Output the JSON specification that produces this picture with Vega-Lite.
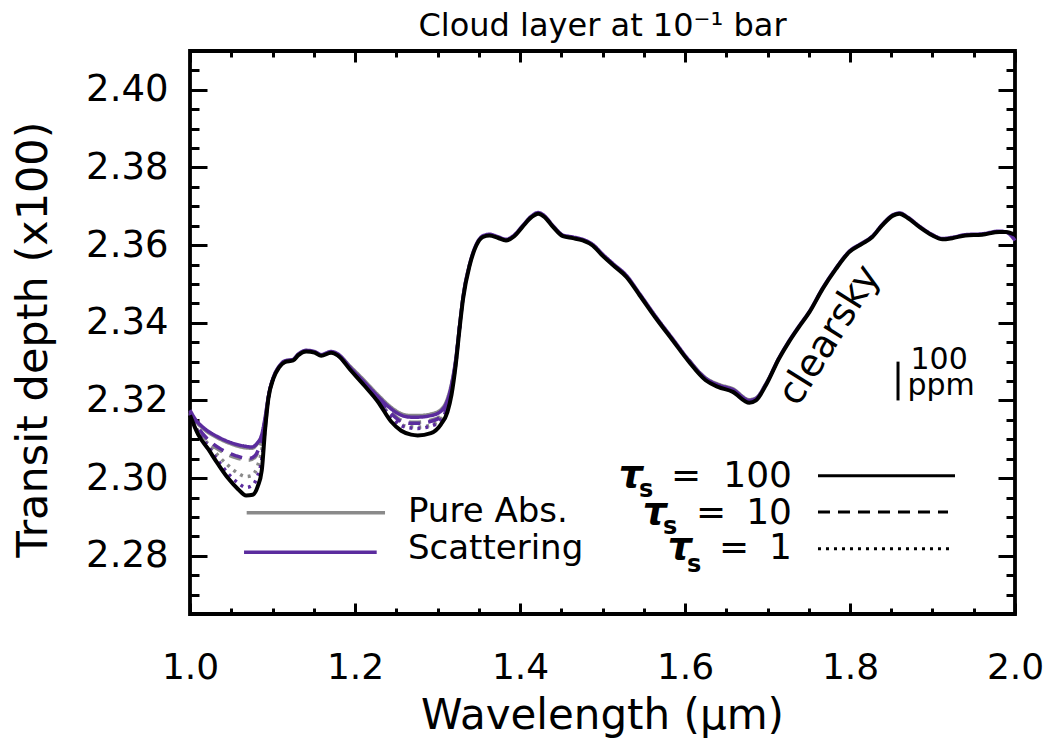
{
  "$schema": "https://vega.github.io/schema/vega-lite/v6.json",
  "width": 825,
  "height": 563,
  "autosize": {"type": "none"},
  "padding": {"left": 190, "top": 51, "right": 35, "bottom": 136},
  "background": "white",
  "config": {
    "font": "DejaVu Sans",
    "view": {"stroke": "#000", "strokeWidth": 3.8},
    "axis": {"grid": false, "domain": false, "tickColor": "#000", "tickWidth": 3, "labelColor": "#000", "titleColor": "#000", "labelFont": "DejaVu Sans", "titleFont": "DejaVu Sans", "titleFontWeight": "normal", "labelFlush": false, "labelOverlap": false}
  },
  "title": {"text": "Cloud layer at 10⁻¹ bar", "fontSize": 32, "font": "DejaVu Sans", "fontWeight": "normal", "offset": 19, "dy": 37, "baseline": "alphabetic", "color": "#000"},
  "datasets": {
    "curves": [
      {"m":"Clear","t":"100","g":"a","x":1.000,"y":2.3162},{"m":"Clear","t":"100","g":"a","x":1.010,"y":2.3112},{"m":"Clear","t":"100","g":"a","x":1.022,"y":2.3075},{"m":"Clear","t":"100","g":"a","x":1.034,"y":2.3036},{"m":"Clear","t":"100","g":"a","x":1.046,"y":2.3000},{"m":"Clear","t":"100","g":"a","x":1.058,"y":2.2972},{"m":"Clear","t":"100","g":"a","x":1.068,"y":2.2955},{"m":"Clear","t":"100","g":"a","x":1.076,"y":2.2957},{"m":"Clear","t":"100","g":"a","x":1.082,"y":2.2978},{"m":"Clear","t":"100","g":"a","x":1.087,"y":2.3020},{"m":"Clear","t":"100","g":"a","x":1.091,"y":2.3125},{"m":"Clear","t":"100","g":"a","x":1.095,"y":2.3205},{"m":"Clear","t":"100","g":"a","x":1.101,"y":2.3256},{"m":"Clear","t":"100","g":"a","x":1.108,"y":2.3285},{"m":"Clear","t":"100","g":"a","x":1.115,"y":2.3299},{"m":"Clear","t":"100","g":"a","x":1.125,"y":2.3303},{"m":"Clear","t":"100","g":"a","x":1.131,"y":2.3316},{"m":"Clear","t":"100","g":"a","x":1.141,"y":2.3326},{"m":"Clear","t":"100","g":"a","x":1.151,"y":2.3323},{"m":"Clear","t":"100","g":"a","x":1.159,"y":2.3315},{"m":"Clear","t":"100","g":"a","x":1.171,"y":2.3323},{"m":"Clear","t":"100","g":"a","x":1.179,"y":2.3316},{"m":"Clear","t":"100","g":"a","x":1.195,"y":2.3277},{"m":"Clear","t":"100","g":"a","x":1.211,"y":2.3239},{"m":"Clear","t":"100","g":"a","x":1.228,"y":2.3196},{"m":"Clear","t":"100","g":"a","x":1.244,"y":2.3145},{"m":"Clear","t":"100","g":"a","x":1.256,"y":2.3122},{"m":"Clear","t":"100","g":"a","x":1.268,"y":2.3112},{"m":"Clear","t":"100","g":"a","x":1.276,"y":2.3110},{"m":"Clear","t":"100","g":"a","x":1.292,"y":2.3116},{"m":"Clear","t":"100","g":"a","x":1.304,"y":2.3138},{"m":"Clear","t":"100","g":"a","x":1.312,"y":2.3170},{"m":"Clear","t":"100","g":"a","x":1.317,"y":2.3215},{"m":"Clear","t":"100","g":"a","x":1.322,"y":2.3290},{"m":"Clear","t":"100","g":"a","x":1.327,"y":2.3390},{"m":"Clear","t":"100","g":"a","x":1.331,"y":2.3462},{"m":"Clear","t":"100","g":"a","x":1.339,"y":2.3548},{"m":"Clear","t":"100","g":"a","x":1.347,"y":2.3599},{"m":"Clear","t":"100","g":"a","x":1.355,"y":2.3621},{"m":"Clear","t":"100","g":"a","x":1.363,"y":2.3625},{"m":"Clear","t":"100","g":"a","x":1.373,"y":2.3619},{"m":"Clear","t":"100","g":"a","x":1.383,"y":2.3612},{"m":"Clear","t":"100","g":"a","x":1.393,"y":2.3623},{"m":"Clear","t":"100","g":"a","x":1.403,"y":2.3647},{"m":"Clear","t":"100","g":"a","x":1.414,"y":2.3672},{"m":"Clear","t":"100","g":"a","x":1.422,"y":2.3681},{"m":"Clear","t":"100","g":"a","x":1.430,"y":2.3672},{"m":"Clear","t":"100","g":"a","x":1.440,"y":2.3647},{"m":"Clear","t":"100","g":"a","x":1.452,"y":2.3623},{"m":"Clear","t":"100","g":"a","x":1.464,"y":2.3618},{"m":"Clear","t":"100","g":"a","x":1.476,"y":2.3612},{"m":"Clear","t":"100","g":"a","x":1.488,"y":2.3599},{"m":"Clear","t":"100","g":"a","x":1.500,"y":2.3573},{"m":"Clear","t":"100","g":"a","x":1.513,"y":2.3548},{"m":"Clear","t":"100","g":"a","x":1.529,"y":2.3518},{"m":"Clear","t":"100","g":"a","x":1.545,"y":2.3471},{"m":"Clear","t":"100","g":"a","x":1.565,"y":2.3411},{"m":"Clear","t":"100","g":"a","x":1.585,"y":2.3355},{"m":"Clear","t":"100","g":"a","x":1.605,"y":2.3299},{"m":"Clear","t":"100","g":"a","x":1.625,"y":2.3252},{"m":"Clear","t":"100","g":"a","x":1.640,"y":2.3235},{"m":"Clear","t":"100","g":"a","x":1.658,"y":2.3222},{"m":"Clear","t":"100","g":"a","x":1.678,"y":2.3194},{"m":"Clear","t":"100","g":"a","x":1.686,"y":2.3200},{"m":"Clear","t":"100","g":"a","x":1.698,"y":2.3239},{"m":"Clear","t":"100","g":"a","x":1.714,"y":2.3308},{"m":"Clear","t":"100","g":"a","x":1.726,"y":2.3351},{"m":"Clear","t":"100","g":"a","x":1.738,"y":2.3389},{"m":"Clear","t":"100","g":"a","x":1.751,"y":2.3428},{"m":"Clear","t":"100","g":"a","x":1.767,"y":2.3488},{"m":"Clear","t":"100","g":"a","x":1.783,"y":2.3539},{"m":"Clear","t":"100","g":"a","x":1.799,"y":2.3582},{"m":"Clear","t":"100","g":"a","x":1.815,"y":2.3604},{"m":"Clear","t":"100","g":"a","x":1.827,"y":2.3621},{"m":"Clear","t":"100","g":"a","x":1.839,"y":2.3651},{"m":"Clear","t":"100","g":"a","x":1.852,"y":2.3676},{"m":"Clear","t":"100","g":"a","x":1.860,"y":2.3681},{"m":"Clear","t":"100","g":"a","x":1.870,"y":2.3670},{"m":"Clear","t":"100","g":"a","x":1.884,"y":2.3647},{"m":"Clear","t":"100","g":"a","x":1.900,"y":2.3625},{"m":"Clear","t":"100","g":"a","x":1.912,"y":2.3615},{"m":"Clear","t":"100","g":"a","x":1.924,"y":2.3618},{"m":"Clear","t":"100","g":"a","x":1.940,"y":2.3625},{"m":"Clear","t":"100","g":"a","x":1.960,"y":2.3627},{"m":"Clear","t":"100","g":"a","x":1.981,"y":2.3634},{"m":"Clear","t":"100","g":"a","x":1.989,"y":2.3634},{"m":"Clear","t":"100","g":"a","x":2.000,"y":2.3627},

      {"m":"Scat","t":"100","g":"a","x":1.000,"y":2.3175},{"m":"Scat","t":"100","g":"a","x":1.006,"y":2.3153},{"m":"Scat","t":"100","g":"a","x":1.018,"y":2.3127},{"m":"Scat","t":"100","g":"a","x":1.034,"y":2.3106},{"m":"Scat","t":"100","g":"a","x":1.050,"y":2.3091},{"m":"Scat","t":"100","g":"a","x":1.067,"y":2.3082},{"m":"Scat","t":"100","g":"a","x":1.075,"y":2.3080},{"m":"Scat","t":"100","g":"a","x":1.081,"y":2.3089},{"m":"Scat","t":"100","g":"a","x":1.087,"y":2.3112},{"m":"Scat","t":"100","g":"a","x":1.091,"y":2.3155},{"m":"Scat","t":"100","g":"a","x":1.095,"y":2.3210},{"m":"Scat","t":"100","g":"a","x":1.101,"y":2.3259},{"m":"Scat","t":"100","g":"a","x":1.108,"y":2.3288},{"m":"Scat","t":"100","g":"a","x":1.115,"y":2.3302},{"m":"Scat","t":"100","g":"a","x":1.125,"y":2.3306},{"m":"Scat","t":"100","g":"a","x":1.131,"y":2.3319},{"m":"Scat","t":"100","g":"a","x":1.141,"y":2.3329},{"m":"Scat","t":"100","g":"a","x":1.151,"y":2.3326},{"m":"Scat","t":"100","g":"a","x":1.159,"y":2.3318},{"m":"Scat","t":"100","g":"a","x":1.171,"y":2.3326},{"m":"Scat","t":"100","g":"a","x":1.179,"y":2.3320},{"m":"Scat","t":"100","g":"a","x":1.195,"y":2.3283},{"m":"Scat","t":"100","g":"a","x":1.211,"y":2.3248},{"m":"Scat","t":"100","g":"a","x":1.228,"y":2.3210},{"m":"Scat","t":"100","g":"a","x":1.244,"y":2.3178},{"m":"Scat","t":"100","g":"a","x":1.256,"y":2.3162},{"m":"Scat","t":"100","g":"a","x":1.268,"y":2.3157},{"m":"Scat","t":"100","g":"a","x":1.276,"y":2.3157},{"m":"Scat","t":"100","g":"a","x":1.292,"y":2.3161},{"m":"Scat","t":"100","g":"a","x":1.304,"y":2.3172},{"m":"Scat","t":"100","g":"a","x":1.312,"y":2.3200},{"m":"Scat","t":"100","g":"a","x":1.317,"y":2.3240},{"m":"Scat","t":"100","g":"a","x":1.322,"y":2.3302},{"m":"Scat","t":"100","g":"a","x":1.327,"y":2.3396},{"m":"Scat","t":"100","g":"a","x":1.331,"y":2.3466},{"m":"Scat","t":"100","g":"a","x":1.339,"y":2.3551},{"m":"Scat","t":"100","g":"a","x":1.347,"y":2.3602},{"m":"Scat","t":"100","g":"a","x":1.355,"y":2.3624},{"m":"Scat","t":"100","g":"a","x":1.363,"y":2.3628},{"m":"Scat","t":"100","g":"a","x":1.373,"y":2.3622},{"m":"Scat","t":"100","g":"a","x":1.383,"y":2.3615},{"m":"Scat","t":"100","g":"a","x":1.393,"y":2.3626},{"m":"Scat","t":"100","g":"a","x":1.403,"y":2.3650},{"m":"Scat","t":"100","g":"a","x":1.414,"y":2.3675},{"m":"Scat","t":"100","g":"a","x":1.422,"y":2.3684},{"m":"Scat","t":"100","g":"a","x":1.430,"y":2.3675},{"m":"Scat","t":"100","g":"a","x":1.440,"y":2.3650},{"m":"Scat","t":"100","g":"a","x":1.452,"y":2.3626},{"m":"Scat","t":"100","g":"a","x":1.464,"y":2.3621},{"m":"Scat","t":"100","g":"a","x":1.476,"y":2.3615},{"m":"Scat","t":"100","g":"a","x":1.488,"y":2.3602},{"m":"Scat","t":"100","g":"a","x":1.500,"y":2.3577},{"m":"Scat","t":"100","g":"a","x":1.513,"y":2.3552},{"m":"Scat","t":"100","g":"a","x":1.529,"y":2.3522},{"m":"Scat","t":"100","g":"a","x":1.545,"y":2.3475},{"m":"Scat","t":"100","g":"a","x":1.565,"y":2.3415},{"m":"Scat","t":"100","g":"a","x":1.585,"y":2.3359},{"m":"Scat","t":"100","g":"a","x":1.605,"y":2.3303},{"m":"Scat","t":"100","g":"a","x":1.625,"y":2.3257},{"m":"Scat","t":"100","g":"a","x":1.640,"y":2.3240},{"m":"Scat","t":"100","g":"a","x":1.658,"y":2.3228},{"m":"Scat","t":"100","g":"a","x":1.678,"y":2.3200},{"m":"Scat","t":"100","g":"a","x":1.686,"y":2.3205},{"m":"Scat","t":"100","g":"a","x":1.698,"y":2.3242},{"m":"Scat","t":"100","g":"a","x":1.714,"y":2.3310},{"m":"Scat","t":"100","g":"a","x":1.726,"y":2.3353},{"m":"Scat","t":"100","g":"a","x":1.738,"y":2.3391},{"m":"Scat","t":"100","g":"a","x":1.751,"y":2.3430},{"m":"Scat","t":"100","g":"a","x":1.767,"y":2.3490},{"m":"Scat","t":"100","g":"a","x":1.783,"y":2.3541},{"m":"Scat","t":"100","g":"a","x":1.799,"y":2.3584},{"m":"Scat","t":"100","g":"a","x":1.815,"y":2.3606},{"m":"Scat","t":"100","g":"a","x":1.827,"y":2.3623},{"m":"Scat","t":"100","g":"a","x":1.839,"y":2.3653},{"m":"Scat","t":"100","g":"a","x":1.852,"y":2.3678},{"m":"Scat","t":"100","g":"a","x":1.860,"y":2.3683},{"m":"Scat","t":"100","g":"a","x":1.870,"y":2.3672},{"m":"Scat","t":"100","g":"a","x":1.884,"y":2.3649},{"m":"Scat","t":"100","g":"a","x":1.900,"y":2.3627},{"m":"Scat","t":"100","g":"a","x":1.912,"y":2.3617},{"m":"Scat","t":"100","g":"a","x":1.924,"y":2.3620},{"m":"Scat","t":"100","g":"a","x":1.940,"y":2.3627},{"m":"Scat","t":"100","g":"a","x":1.960,"y":2.3629},{"m":"Scat","t":"100","g":"a","x":1.981,"y":2.3636},{"m":"Scat","t":"100","g":"a","x":1.989,"y":2.3634},{"m":"Scat","t":"100","g":"a","x":2.000,"y":2.3612},

      {"m":"Pure","t":"100","g":"a","x":1.000,"y":2.3173},{"m":"Pure","t":"100","g":"a","x":1.006,"y":2.3150},{"m":"Pure","t":"100","g":"a","x":1.018,"y":2.3124},{"m":"Pure","t":"100","g":"a","x":1.034,"y":2.3103},{"m":"Pure","t":"100","g":"a","x":1.050,"y":2.3088},{"m":"Pure","t":"100","g":"a","x":1.067,"y":2.3078},{"m":"Pure","t":"100","g":"a","x":1.075,"y":2.3077},{"m":"Pure","t":"100","g":"a","x":1.081,"y":2.3087},{"m":"Pure","t":"100","g":"a","x":1.087,"y":2.3110},{"m":"Pure","t":"100","g":"a","x":1.091,"y":2.3153},{"m":"Pure","t":"100","g":"a","x":1.095,"y":2.3208},{"m":"Pure","t":"100","g":"a","x":1.101,"y":2.3258},{"m":"Pure","t":"100","g":"a","x":1.108,"y":2.3287},{"m":"Pure","t":"100","g":"a","x":1.115,"y":2.3301},{"m":"Pure","t":"100","g":"a","x":1.125,"y":2.3305},{"m":"Pure","t":"100","g":"a","x":1.131,"y":2.3318},{"m":"Pure","t":"100","g":"a","x":1.141,"y":2.3328},{"m":"Pure","t":"100","g":"a","x":1.151,"y":2.3325},{"m":"Pure","t":"100","g":"a","x":1.159,"y":2.3317},{"m":"Pure","t":"100","g":"a","x":1.171,"y":2.3325},{"m":"Pure","t":"100","g":"a","x":1.179,"y":2.3319},{"m":"Pure","t":"100","g":"a","x":1.195,"y":2.3286},{"m":"Pure","t":"100","g":"a","x":1.211,"y":2.3252},{"m":"Pure","t":"100","g":"a","x":1.228,"y":2.3214},{"m":"Pure","t":"100","g":"a","x":1.244,"y":2.3182},{"m":"Pure","t":"100","g":"a","x":1.256,"y":2.3166},{"m":"Pure","t":"100","g":"a","x":1.268,"y":2.3161},{"m":"Pure","t":"100","g":"a","x":1.276,"y":2.3161},{"m":"Pure","t":"100","g":"a","x":1.292,"y":2.3165},{"m":"Pure","t":"100","g":"a","x":1.304,"y":2.3176},{"m":"Pure","t":"100","g":"a","x":1.312,"y":2.3204},{"m":"Pure","t":"100","g":"a","x":1.317,"y":2.3243},{"m":"Pure","t":"100","g":"a","x":1.322,"y":2.3304},{"m":"Pure","t":"100","g":"a","x":1.327,"y":2.3396},{"m":"Pure","t":"100","g":"a","x":1.331,"y":2.3466},{"m":"Pure","t":"100","g":"a","x":1.339,"y":2.3550},
      {"m":"Pure","t":"100","g":"b","x":1.605,"y":2.3304},{"m":"Pure","t":"100","g":"b","x":1.625,"y":2.3258},{"m":"Pure","t":"100","g":"b","x":1.640,"y":2.3242},{"m":"Pure","t":"100","g":"b","x":1.658,"y":2.3230},{"m":"Pure","t":"100","g":"b","x":1.678,"y":2.3202},{"m":"Pure","t":"100","g":"b","x":1.686,"y":2.3206},{"m":"Pure","t":"100","g":"b","x":1.698,"y":2.3243},{"m":"Pure","t":"100","g":"b","x":1.714,"y":2.3310},

      {"m":"Scat","t":"10","g":"a","x":1.000,"y":2.3170},{"m":"Scat","t":"10","g":"a","x":1.010,"y":2.3130},{"m":"Scat","t":"10","g":"a","x":1.018,"y":2.3108},{"m":"Scat","t":"10","g":"a","x":1.038,"y":2.3074},{"m":"Scat","t":"10","g":"a","x":1.055,"y":2.3058},{"m":"Scat","t":"10","g":"a","x":1.071,"y":2.3050},{"m":"Scat","t":"10","g":"a","x":1.079,"y":2.3058},{"m":"Scat","t":"10","g":"a","x":1.085,"y":2.3085},{"m":"Scat","t":"10","g":"a","x":1.089,"y":2.3112},{"m":"Scat","t":"10","g":"a","x":1.091,"y":2.3135},{"m":"Scat","t":"10","g":"a","x":1.095,"y":2.3207},{"m":"Scat","t":"10","g":"a","x":1.101,"y":2.3257},
      {"m":"Scat","t":"10","g":"b","x":1.179,"y":2.3319},{"m":"Scat","t":"10","g":"b","x":1.195,"y":2.3281},{"m":"Scat","t":"10","g":"b","x":1.211,"y":2.3245},{"m":"Scat","t":"10","g":"b","x":1.228,"y":2.3203},{"m":"Scat","t":"10","g":"b","x":1.244,"y":2.3166},{"m":"Scat","t":"10","g":"b","x":1.256,"y":2.3146},{"m":"Scat","t":"10","g":"b","x":1.268,"y":2.3141},{"m":"Scat","t":"10","g":"b","x":1.276,"y":2.3141},{"m":"Scat","t":"10","g":"b","x":1.292,"y":2.3146},{"m":"Scat","t":"10","g":"b","x":1.304,"y":2.3158},{"m":"Scat","t":"10","g":"b","x":1.312,"y":2.3190},{"m":"Scat","t":"10","g":"b","x":1.317,"y":2.3232},{"m":"Scat","t":"10","g":"b","x":1.322,"y":2.3298},{"m":"Scat","t":"10","g":"b","x":1.327,"y":2.3394},

      {"m":"Pure","t":"10","g":"a","x":1.000,"y":2.3169},{"m":"Pure","t":"10","g":"a","x":1.010,"y":2.3126},{"m":"Pure","t":"10","g":"a","x":1.018,"y":2.3103},{"m":"Pure","t":"10","g":"a","x":1.038,"y":2.3069},{"m":"Pure","t":"10","g":"a","x":1.055,"y":2.3053},{"m":"Pure","t":"10","g":"a","x":1.071,"y":2.3046},{"m":"Pure","t":"10","g":"a","x":1.079,"y":2.3054},{"m":"Pure","t":"10","g":"a","x":1.085,"y":2.3082},{"m":"Pure","t":"10","g":"a","x":1.089,"y":2.3110},{"m":"Pure","t":"10","g":"a","x":1.091,"y":2.3133},{"m":"Pure","t":"10","g":"a","x":1.095,"y":2.3207},{"m":"Pure","t":"10","g":"a","x":1.101,"y":2.3257},
      {"m":"Pure","t":"10","g":"b","x":1.179,"y":2.3319},{"m":"Pure","t":"10","g":"b","x":1.195,"y":2.3282},{"m":"Pure","t":"10","g":"b","x":1.211,"y":2.3247},{"m":"Pure","t":"10","g":"b","x":1.228,"y":2.3206},{"m":"Pure","t":"10","g":"b","x":1.244,"y":2.3169},{"m":"Pure","t":"10","g":"b","x":1.256,"y":2.3149},{"m":"Pure","t":"10","g":"b","x":1.268,"y":2.3144},{"m":"Pure","t":"10","g":"b","x":1.276,"y":2.3144},{"m":"Pure","t":"10","g":"b","x":1.292,"y":2.3149},{"m":"Pure","t":"10","g":"b","x":1.304,"y":2.3160},{"m":"Pure","t":"10","g":"b","x":1.312,"y":2.3192},{"m":"Pure","t":"10","g":"b","x":1.317,"y":2.3233},{"m":"Pure","t":"10","g":"b","x":1.322,"y":2.3298},{"m":"Pure","t":"10","g":"b","x":1.327,"y":2.3394},

      {"m":"Pure","t":"1","g":"a","x":1.000,"y":2.3166},{"m":"Pure","t":"1","g":"a","x":1.010,"y":2.3120},{"m":"Pure","t":"1","g":"a","x":1.022,"y":2.3088},{"m":"Pure","t":"1","g":"a","x":1.034,"y":2.3058},{"m":"Pure","t":"1","g":"a","x":1.046,"y":2.3033},{"m":"Pure","t":"1","g":"a","x":1.058,"y":2.3013},{"m":"Pure","t":"1","g":"a","x":1.068,"y":2.3004},{"m":"Pure","t":"1","g":"a","x":1.076,"y":2.3008},{"m":"Pure","t":"1","g":"a","x":1.082,"y":2.3032},{"m":"Pure","t":"1","g":"a","x":1.087,"y":2.3072},{"m":"Pure","t":"1","g":"a","x":1.091,"y":2.3128},{"m":"Pure","t":"1","g":"a","x":1.095,"y":2.3206},{"m":"Pure","t":"1","g":"a","x":1.101,"y":2.3256},
      {"m":"Pure","t":"1","g":"b","x":1.179,"y":2.3318},{"m":"Pure","t":"1","g":"b","x":1.195,"y":2.3280},{"m":"Pure","t":"1","g":"b","x":1.211,"y":2.3243},{"m":"Pure","t":"1","g":"b","x":1.228,"y":2.3199},{"m":"Pure","t":"1","g":"b","x":1.244,"y":2.3160},{"m":"Pure","t":"1","g":"b","x":1.256,"y":2.3138},{"m":"Pure","t":"1","g":"b","x":1.268,"y":2.3132},{"m":"Pure","t":"1","g":"b","x":1.276,"y":2.3131},{"m":"Pure","t":"1","g":"b","x":1.292,"y":2.3137},{"m":"Pure","t":"1","g":"b","x":1.304,"y":2.3152},{"m":"Pure","t":"1","g":"b","x":1.312,"y":2.3184},{"m":"Pure","t":"1","g":"b","x":1.317,"y":2.3226},{"m":"Pure","t":"1","g":"b","x":1.322,"y":2.3294},{"m":"Pure","t":"1","g":"b","x":1.327,"y":2.3392},

      {"m":"Scat","t":"1","g":"a","x":1.000,"y":2.3165},{"m":"Scat","t":"1","g":"a","x":1.010,"y":2.3117},{"m":"Scat","t":"1","g":"a","x":1.022,"y":2.3082},{"m":"Scat","t":"1","g":"a","x":1.034,"y":2.3045},{"m":"Scat","t":"1","g":"a","x":1.046,"y":2.3012},{"m":"Scat","t":"1","g":"a","x":1.058,"y":2.2988},{"m":"Scat","t":"1","g":"a","x":1.068,"y":2.2976},{"m":"Scat","t":"1","g":"a","x":1.076,"y":2.2982},{"m":"Scat","t":"1","g":"a","x":1.082,"y":2.3006},{"m":"Scat","t":"1","g":"a","x":1.087,"y":2.3048},{"m":"Scat","t":"1","g":"a","x":1.091,"y":2.3127},{"m":"Scat","t":"1","g":"a","x":1.095,"y":2.3206},{"m":"Scat","t":"1","g":"a","x":1.101,"y":2.3256},
      {"m":"Scat","t":"1","g":"b","x":1.179,"y":2.3318},{"m":"Scat","t":"1","g":"b","x":1.195,"y":2.3279},{"m":"Scat","t":"1","g":"b","x":1.211,"y":2.3242},{"m":"Scat","t":"1","g":"b","x":1.228,"y":2.3197},{"m":"Scat","t":"1","g":"b","x":1.244,"y":2.3157},{"m":"Scat","t":"1","g":"b","x":1.256,"y":2.3135},{"m":"Scat","t":"1","g":"b","x":1.268,"y":2.3129},{"m":"Scat","t":"1","g":"b","x":1.276,"y":2.3128},{"m":"Scat","t":"1","g":"b","x":1.292,"y":2.3134},{"m":"Scat","t":"1","g":"b","x":1.304,"y":2.3150},{"m":"Scat","t":"1","g":"b","x":1.312,"y":2.3182},{"m":"Scat","t":"1","g":"b","x":1.317,"y":2.3224},{"m":"Scat","t":"1","g":"b","x":1.322,"y":2.3293},{"m":"Scat","t":"1","g":"b","x":1.327,"y":2.3392}
    ]
  },
  "resolve": {"axis": {"x": "independent", "y": "independent"}},
  "layer": [
    {
      "data": {"values": [{"x": 1.5, "y": 2.3}]},
      "mark": {"type": "point", "opacity": 0},
      "encoding": {
        "x": {"field": "x", "type": "quantitative", "scale": {"domain": [1, 2], "nice": false, "zero": false},
              "axis": {"orient": "bottom", "values": [1.0, 1.2, 1.4, 1.6, 1.8, 2.0], "format": ".1f", "tickSize": -11, "labelFontSize": 36, "labelPadding": 75, "labelBaseline": "alphabetic",
                       "title": "Wavelength (μm)", "titleFontSize": 42, "titleX": 412, "titleY": 114, "titleBaseline": "alphabetic", "titleAlign": "center"}},
        "y": {"field": "y", "type": "quantitative", "scale": {"domain": [2.265, 2.41], "nice": false, "zero": false},
              "axis": {"orient": "left", "values": [2.28, 2.30, 2.32, 2.34, 2.36, 2.38, 2.40], "format": ".2f", "tickSize": -17, "labelFontSize": 37, "labelPadding": 39, "labelBaseline": "middle",
                       "title": "Transit depth (x100)", "titleFontSize": 43, "titleX": -157, "titleY": 288, "titleAngle": -90, "titleBaseline": "middle", "titleAlign": "center"}}
      }
    },
    {
      "data": {"values": [{"x": 1.5, "y": 2.3}]},
      "mark": {"type": "point", "opacity": 0},
      "encoding": {
        "x": {"field": "x", "type": "quantitative", "scale": {"domain": [1, 2], "nice": false, "zero": false},
              "axis": {"orient": "bottom", "values": [1.05, 1.1, 1.15, 1.25, 1.3, 1.35, 1.45, 1.5, 1.55, 1.65, 1.7, 1.75, 1.85, 1.9, 1.95], "tickSize": -6, "labels": false, "title": null}},
        "y": {"field": "y", "type": "quantitative", "scale": {"domain": [2.265, 2.41], "nice": false, "zero": false},
              "axis": {"orient": "left", "values": [2.27, 2.275, 2.285, 2.29, 2.295, 2.305, 2.31, 2.315, 2.325, 2.33, 2.335, 2.345, 2.35, 2.355, 2.365, 2.37, 2.375, 2.385, 2.39, 2.395, 2.405], "tickSize": -9, "labels": false, "title": null}}
      }
    },
    {
      "data": {"values": [{"x": 1.5, "y": 2.3}]},
      "mark": {"type": "point", "opacity": 0},
      "encoding": {
        "x": {"field": "x", "type": "quantitative", "scale": {"domain": [1, 2], "nice": false, "zero": false},
              "axis": {"orient": "top", "values": [1.0, 1.2, 1.4, 1.6, 1.8, 2.0], "tickSize": -11, "labels": false, "title": null}},
        "y": {"field": "y", "type": "quantitative", "scale": {"domain": [2.265, 2.41], "nice": false, "zero": false},
              "axis": {"orient": "right", "values": [2.28, 2.30, 2.32, 2.34, 2.36, 2.38, 2.40], "tickSize": -17, "labels": false, "title": null}}
      }
    },
    {
      "data": {"values": [{"x": 1.5, "y": 2.3}]},
      "mark": {"type": "point", "opacity": 0},
      "encoding": {
        "x": {"field": "x", "type": "quantitative", "scale": {"domain": [1, 2], "nice": false, "zero": false},
              "axis": {"orient": "top", "values": [1.05, 1.1, 1.15, 1.25, 1.3, 1.35, 1.45, 1.5, 1.55, 1.65, 1.7, 1.75, 1.85, 1.9, 1.95], "tickSize": -6, "labels": false, "title": null}},
        "y": {"field": "y", "type": "quantitative", "scale": {"domain": [2.265, 2.41], "nice": false, "zero": false},
              "axis": {"orient": "right", "values": [2.27, 2.275, 2.285, 2.29, 2.295, 2.305, 2.31, 2.315, 2.325, 2.33, 2.335, 2.345, 2.35, 2.355, 2.365, 2.37, 2.375, 2.385, 2.39, 2.395, 2.405], "tickSize": -9, "labels": false, "title": null}}
      }
    },
    {
      "data": {"name": "curves"},
      "transform": [{"filter": "datum.m == 'Pure'"}],
      "mark": {"type": "line", "color": "#8a8a8a", "strokeWidth": 3.5, "interpolate": "monotone"},
      "encoding": {
        "x": {"field": "x", "type": "quantitative", "scale": {"domain": [1, 2], "nice": false, "zero": false}, "axis": null},
        "y": {"field": "y", "type": "quantitative", "scale": {"domain": [2.265, 2.41], "nice": false, "zero": false}, "axis": null},
        "strokeDash": {"field": "t", "type": "nominal", "scale": {"domain": ["100", "10", "1"], "range": [[1, 0], [12, 8], [3, 5]]}, "legend": null},
        "detail": {"field": "g"}
      }
    },
    {
      "data": {"name": "curves"},
      "transform": [{"filter": "datum.m == 'Scat'"}],
      "mark": {"type": "line", "color": "#5b2c9e", "strokeWidth": 3.5, "interpolate": "monotone"},
      "encoding": {
        "x": {"field": "x", "type": "quantitative", "scale": {"domain": [1, 2], "nice": false, "zero": false}, "axis": null},
        "y": {"field": "y", "type": "quantitative", "scale": {"domain": [2.265, 2.41], "nice": false, "zero": false}, "axis": null},
        "strokeDash": {"field": "t", "type": "nominal", "scale": {"domain": ["100", "10", "1"], "range": [[1, 0], [12, 8], [3, 5]]}, "legend": null},
        "detail": {"field": "g"}
      }
    },
    {
      "data": {"name": "curves"},
      "transform": [{"filter": "datum.m == 'Clear'"}],
      "mark": {"type": "line", "color": "#000000", "strokeWidth": 4, "interpolate": "monotone"},
      "encoding": {
        "x": {"field": "x", "type": "quantitative", "scale": {"domain": [1, 2], "nice": false, "zero": false}, "axis": null},
        "y": {"field": "y", "type": "quantitative", "scale": {"domain": [2.265, 2.41], "nice": false, "zero": false}, "axis": null}
      }
    },
    {
      "data": {"values": [
        {"m": "Pure Abs.", "x": 1.0687, "x2": 1.2364, "y": 2.2911},
        {"m": "Scattering", "x": 1.0655, "x2": 1.2263, "y": 2.2809}
      ]},
      "mark": {"type": "rule", "strokeWidth": 3.5},
      "encoding": {
        "x": {"field": "x", "type": "quantitative", "scale": {"domain": [1, 2], "nice": false, "zero": false}, "axis": null},
        "x2": {"field": "x2"},
        "y": {"field": "y", "type": "quantitative", "scale": {"domain": [2.265, 2.41], "nice": false, "zero": false}, "axis": null},
        "color": {"field": "m", "type": "nominal", "scale": {"domain": ["Pure Abs.", "Scattering"], "range": ["#8a8a8a", "#5b2c9e"]}, "legend": null}
      }
    },
    {
      "data": {"values": [
        {"t": "100", "x": 1.7612, "x2": 1.9273, "y": 2.3006},
        {"t": "10", "x": 1.7612, "x2": 1.9188, "y": 2.2913},
        {"t": "1", "x": 1.7612, "x2": 1.9248, "y": 2.2818}
      ]},
      "mark": {"type": "rule", "strokeWidth": 3, "color": "#000"},
      "encoding": {
        "x": {"field": "x", "type": "quantitative", "scale": {"domain": [1, 2], "nice": false, "zero": false}, "axis": null},
        "x2": {"field": "x2"},
        "y": {"field": "y", "type": "quantitative", "scale": {"domain": [2.265, 2.41], "nice": false, "zero": false}, "axis": null},
        "strokeDash": {"field": "t", "type": "nominal", "scale": {"domain": ["100", "10", "1"], "range": [[1, 0], [12, 10], [3, 5]]}, "legend": null}
      }
    },
    {
      "data": {"values": [{"x": 1.8582, "y": 2.32, "y2": 2.33}]},
      "mark": {"type": "rule", "strokeWidth": 3, "color": "#000"},
      "encoding": {
        "x": {"field": "x", "type": "quantitative", "scale": {"domain": [1, 2], "nice": false, "zero": false}, "axis": null},
        "y": {"field": "y", "type": "quantitative", "scale": {"domain": [2.265, 2.41], "nice": false, "zero": false}, "axis": null},
        "y2": {"field": "y2"}
      }
    },
    {
      "data": {"values": [
        {"x": 1.2642, "y": 2.2887, "txt": "Pure Abs."},
        {"x": 1.2642, "y": 2.2792, "txt": "Scattering"}
      ]},
      "mark": {"type": "text", "align": "left", "baseline": "alphabetic", "fontSize": 34, "color": "#000"},
      "encoding": {
        "x": {"field": "x", "type": "quantitative", "scale": {"domain": [1, 2], "nice": false, "zero": false}, "axis": null},
        "y": {"field": "y", "type": "quantitative", "scale": {"domain": [2.265, 2.41], "nice": false, "zero": false}, "axis": null},
        "text": {"field": "txt"}
      }
    },
    {
      "data": {"values": [
        {"x": 1.5345, "y": 2.2978, "txt": "τ"},
        {"x": 1.5636, "y": 2.2882, "txt": "τ"},
        {"x": 1.5939, "y": 2.2792, "txt": "τ"}
      ]},
      "mark": {"type": "text", "align": "center", "baseline": "alphabetic", "fontSize": 38, "fontWeight": "bold", "fontStyle": "italic", "color": "#000"},
      "encoding": {
        "x": {"field": "x", "type": "quantitative", "scale": {"domain": [1, 2], "nice": false, "zero": false}, "axis": null},
        "y": {"field": "y", "type": "quantitative", "scale": {"domain": [2.265, 2.41], "nice": false, "zero": false}, "axis": null},
        "text": {"field": "txt"}
      }
    },
    {
      "data": {"values": [
        {"x": 1.5530, "y": 2.2952, "txt": "s"},
        {"x": 1.5821, "y": 2.2855, "txt": "s"},
        {"x": 1.6112, "y": 2.2759, "txt": "s"}
      ]},
      "mark": {"type": "text", "align": "center", "baseline": "alphabetic", "fontSize": 24, "fontWeight": "bold", "color": "#000"},
      "encoding": {
        "x": {"field": "x", "type": "quantitative", "scale": {"domain": [1, 2], "nice": false, "zero": false}, "axis": null},
        "y": {"field": "y", "type": "quantitative", "scale": {"domain": [2.265, 2.41], "nice": false, "zero": false}, "axis": null},
        "text": {"field": "txt"}
      }
    },
    {
      "data": {"values": [
        {"x": 1.6012, "y": 2.2978, "txt": "="},
        {"x": 1.6315, "y": 2.2882, "txt": "="},
        {"x": 1.6594, "y": 2.2792, "txt": "="}
      ]},
      "mark": {"type": "text", "align": "center", "baseline": "alphabetic", "fontSize": 36, "color": "#000"},
      "encoding": {
        "x": {"field": "x", "type": "quantitative", "scale": {"domain": [1, 2], "nice": false, "zero": false}, "axis": null},
        "y": {"field": "y", "type": "quantitative", "scale": {"domain": [2.265, 2.41], "nice": false, "zero": false}, "axis": null},
        "text": {"field": "txt"}
      }
    },
    {
      "data": {"values": [
        {"x": 1.7297, "y": 2.2978, "txt": "100"},
        {"x": 1.7297, "y": 2.2882, "txt": "10"},
        {"x": 1.7297, "y": 2.2792, "txt": "1"}
      ]},
      "mark": {"type": "text", "align": "right", "baseline": "alphabetic", "fontSize": 36, "color": "#000"},
      "encoding": {
        "x": {"field": "x", "type": "quantitative", "scale": {"domain": [1, 2], "nice": false, "zero": false}, "axis": null},
        "y": {"field": "y", "type": "quantitative", "scale": {"domain": [2.265, 2.41], "nice": false, "zero": false}, "axis": null},
        "text": {"field": "txt"}
      }
    },
    {
      "data": {"values": [{"x": 1.7758, "y": 2.3367, "txt": "clearsky"}]},
      "mark": {"type": "text", "align": "center", "baseline": "middle", "fontSize": 38, "angle": -58, "color": "#000"},
      "encoding": {
        "x": {"field": "x", "type": "quantitative", "scale": {"domain": [1, 2], "nice": false, "zero": false}, "axis": null},
        "y": {"field": "y", "type": "quantitative", "scale": {"domain": [2.265, 2.41], "nice": false, "zero": false}, "axis": null},
        "text": {"field": "txt"}
      }
    },
    {
      "data": {"values": [
        {"x": 1.8733, "y": 2.3281, "txt": "100"},
        {"x": 1.8697, "y": 2.3213, "txt": "ppm"}
      ]},
      "mark": {"type": "text", "align": "left", "baseline": "alphabetic", "fontSize": 30, "color": "#000"},
      "encoding": {
        "x": {"field": "x", "type": "quantitative", "scale": {"domain": [1, 2], "nice": false, "zero": false}, "axis": null},
        "y": {"field": "y", "type": "quantitative", "scale": {"domain": [2.265, 2.41], "nice": false, "zero": false}, "axis": null},
        "text": {"field": "txt"}
      }
    }
  ]
}
